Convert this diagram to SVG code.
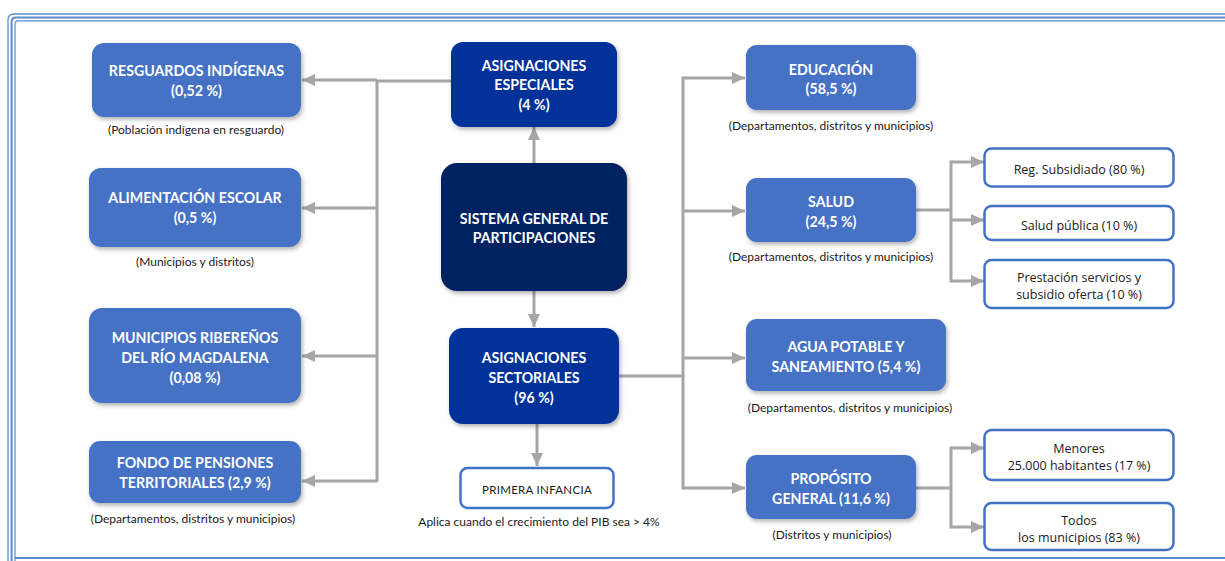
<svg xmlns="http://www.w3.org/2000/svg" width="1225" height="561" viewBox="0 0 1225 561">
  <defs>
    <filter id="shadow" x="-10%" y="-10%" width="125%" height="130%">
      <feDropShadow dx="1.5" dy="2.5" stdDeviation="2" flood-color="#000" flood-opacity="0.3"/>
    </filter>
    <marker id="arrow" markerUnits="userSpaceOnUse" markerWidth="13" markerHeight="12" refX="13" refY="6" orient="auto">
      <path d="M0,0 L13,6 L0,12 z" fill="#a6a6a6"/>
    </marker>
    <style>
      .box-mid { fill: #4472c4; filter: url(#shadow); }
      .box-dark { fill: #003399; filter: url(#shadow); }
      .box-navy { fill: #002060; filter: url(#shadow); }
      .box-out { fill: #ffffff; stroke: #4472c4; stroke-width: 2.5; }
      .t-box { font-family: Lato, "Liberation Sans", sans-serif; font-weight: 700; font-size: 14.2px; fill: #ffffff; text-anchor: middle; }
      .t-cap { font-family: Lato, "Liberation Sans", sans-serif; font-size: 12px; fill: #1a1a1a; text-anchor: middle; }
      .t-sub { font-family: "Open Sans", "Liberation Sans", sans-serif; font-size: 12.5px; fill: #1a1a1a; text-anchor: middle; }
      .t-pi { font-family: Lato, "Liberation Sans", sans-serif; font-size: 11.5px; letter-spacing: 0.3px; fill: #1a1a1a; text-anchor: middle; }
      .line { fill: none; stroke: #a6a6a6; stroke-width: 3; }
      .frame { fill: none; stroke: #5b8bd0; }
    </style>
  </defs>

  <rect width="1225" height="561" fill="#ffffff"/>

  <!-- page frame -->
  <g id="frame">
    <path class="frame" d="M8,561 V20 Q8,14 14,14 H1225" stroke-width="1.3"/>
    <path class="frame" d="M11.6,561 V22 Q11.6,17.4 16,17.4 H1225" stroke-width="2" stroke="#4a7bc4"/>
    <path class="frame" d="M15,561 V24 Q15,20.8 18,20.8 H1225" stroke-width="1.2"/>
    <path class="frame" d="M15,558 H1225" stroke-width="1.8" stroke="#4a7bc4"/>
  </g>

  <!-- connectors -->
  <g id="connectors">
    <path class="line" d="M451,81 H377 M377,79.5 V482"/>
    <path class="line" d="M377,80 H302" marker-end="url(#arrow)"/>
    <path class="line" d="M377,208 H302" marker-end="url(#arrow)"/>
    <path class="line" d="M377,356 H302" marker-end="url(#arrow)"/>
    <path class="line" d="M377,481 H302" marker-end="url(#arrow)"/>

    <path class="line" d="M534,163 V127" marker-end="url(#arrow)"/>
    <path class="line" d="M534,291 V327" marker-end="url(#arrow)"/>
    <path class="line" d="M537,424 V466" marker-end="url(#arrow)"/>

    <path class="line" d="M619,376 H683 M683,76.5 V489.5"/>
    <path class="line" d="M683,78 H745" marker-end="url(#arrow)"/>
    <path class="line" d="M683,211 H745" marker-end="url(#arrow)"/>
    <path class="line" d="M683,358 H745" marker-end="url(#arrow)"/>
    <path class="line" d="M683,488 H745" marker-end="url(#arrow)"/>

    <path class="line" d="M916,210 H951 M951,160.5 V282.5"/>
    <path class="line" d="M951,162 H984" marker-end="url(#arrow)"/>
    <path class="line" d="M951,220 H984" marker-end="url(#arrow)"/>
    <path class="line" d="M951,281 H984" marker-end="url(#arrow)"/>

    <path class="line" d="M916,488 H951 M951,446.5 V528.5"/>
    <path class="line" d="M951,448 H984" marker-end="url(#arrow)"/>
    <path class="line" d="M951,527 H984" marker-end="url(#arrow)"/>
  </g>

  <!-- special allocations -->
  <g id="resguardos">
    <rect class="box-mid" x="92" y="43" width="209" height="74" rx="12"/>
    <text class="t-box" x="196.5" y="76">RESGUARDOS INDÍGENAS</text>
    <text class="t-box" x="196.5" y="96">(0,52 %)</text>
    <text class="t-cap" x="196" y="134">(Población indígena en resguardo)</text>
  </g>
  <g id="alimentacion">
    <rect class="box-mid" x="89" y="168" width="212" height="79" rx="12"/>
    <text class="t-box" x="195" y="203">ALIMENTACIÓN ESCOLAR</text>
    <text class="t-box" x="195" y="223">(0,5 %)</text>
    <text class="t-cap" x="195" y="266">(Municipios y distritos)</text>
  </g>
  <g id="ribereños">
    <rect class="box-mid" x="89" y="308" width="212" height="95" rx="13"/>
    <text class="t-box" x="195" y="343">MUNICIPIOS RIBEREÑOS</text>
    <text class="t-box" x="195" y="363">DEL RÍO MAGDALENA</text>
    <text class="t-box" x="195" y="383">(0,08 %)</text>
  </g>
  <g id="pensiones">
    <rect class="box-mid" x="89" y="441" width="212" height="62" rx="11"/>
    <text class="t-box" x="195" y="468">FONDO DE PENSIONES</text>
    <text class="t-box" x="195" y="488">TERRITORIALES (2,9 %)</text>
    <text class="t-cap" x="193" y="523">(Departamentos, distritos y municipios)</text>
  </g>

  <!-- central column -->
  <g id="asig-especiales">
    <rect class="box-dark" x="451" y="42" width="166" height="85" rx="12"/>
    <text class="t-box" x="534" y="71">ASIGNACIONES</text>
    <text class="t-box" x="534" y="90">ESPECIALES</text>
    <text class="t-box" x="534" y="110">(4 %)</text>
  </g>
  <g id="sgp">
    <rect class="box-navy" x="441" y="163" width="186" height="128" rx="16"/>
    <text class="t-box" x="534" y="224">SISTEMA GENERAL DE</text>
    <text class="t-box" x="534" y="243">PARTICIPACIONES</text>
  </g>
  <g id="asig-sectoriales">
    <rect class="box-dark" x="449" y="328" width="170" height="96" rx="14"/>
    <text class="t-box" x="534" y="363">ASIGNACIONES</text>
    <text class="t-box" x="534" y="383">SECTORIALES</text>
    <text class="t-box" x="534" y="403">(96 %)</text>
  </g>
  <g id="primera-infancia">
    <rect class="box-out" x="460.5" y="468" width="153" height="40" rx="7"/>
    <text class="t-pi" x="537" y="493.5">PRIMERA INFANCIA</text>
    <text class="t-cap" x="539" y="526">Aplica cuando el crecimiento del PIB sea &gt; 4%</text>
  </g>

  <!-- sectoral allocations -->
  <g id="educacion">
    <rect class="box-mid" x="746" y="45" width="170" height="65" rx="11"/>
    <text class="t-box" x="831" y="75">EDUCACIÓN</text>
    <text class="t-box" x="831" y="94">(58,5 %)</text>
    <text class="t-cap" x="831" y="130">(Departamentos, distritos y municipios)</text>
  </g>
  <g id="salud">
    <rect class="box-mid" x="746" y="178" width="170" height="64" rx="11"/>
    <text class="t-box" x="831" y="207">SALUD</text>
    <text class="t-box" x="831" y="227">(24,5 %)</text>
    <text class="t-cap" x="831" y="261">(Departamentos, distritos y municipios)</text>
  </g>
  <g id="agua">
    <rect class="box-mid" x="746" y="319" width="200" height="72" rx="11"/>
    <text class="t-box" x="846" y="352">AGUA POTABLE Y</text>
    <text class="t-box" x="846" y="372">SANEAMIENTO (5,4 %)</text>
    <text class="t-cap" x="850" y="412">(Departamentos, distritos y municipios)</text>
  </g>
  <g id="proposito">
    <rect class="box-mid" x="746" y="455" width="170" height="64" rx="11"/>
    <text class="t-box" x="831" y="484">PROPÓSITO</text>
    <text class="t-box" x="831" y="504">GENERAL (11,6 %)</text>
    <text class="t-cap" x="832" y="539">(Distritos y municipios)</text>
  </g>

  <!-- health breakdown -->
  <g id="reg-subsidiado">
    <rect class="box-out" x="984.5" y="148.5" width="189" height="38" rx="7"/>
    <text class="t-sub" x="1079" y="173.5">Reg. Subsidiado (80 %)</text>
  </g>
  <g id="salud-publica">
    <rect class="box-out" x="984.5" y="206" width="189" height="34" rx="7"/>
    <text class="t-sub" x="1079" y="229.5">Salud pública (10 %)</text>
  </g>
  <g id="prestacion">
    <rect class="box-out" x="984.5" y="260" width="189" height="48" rx="7"/>
    <text class="t-sub" x="1079" y="282">Prestación servicios y</text>
    <text class="t-sub" x="1079" y="299">subsidio oferta (10 %)</text>
  </g>

  <!-- general purpose breakdown -->
  <g id="menores">
    <rect class="box-out" x="984.5" y="430" width="189" height="50" rx="7"/>
    <text class="t-sub" x="1079" y="452.5">Menores</text>
    <text class="t-sub" x="1079" y="470">25.000 habitantes (17 %)</text>
  </g>
  <g id="todos">
    <rect class="box-out" x="984.5" y="503" width="189" height="47" rx="7"/>
    <text class="t-sub" x="1079" y="524.5">Todos</text>
    <text class="t-sub" x="1079" y="541.5">los municipios (83 %)</text>
  </g>
</svg>
